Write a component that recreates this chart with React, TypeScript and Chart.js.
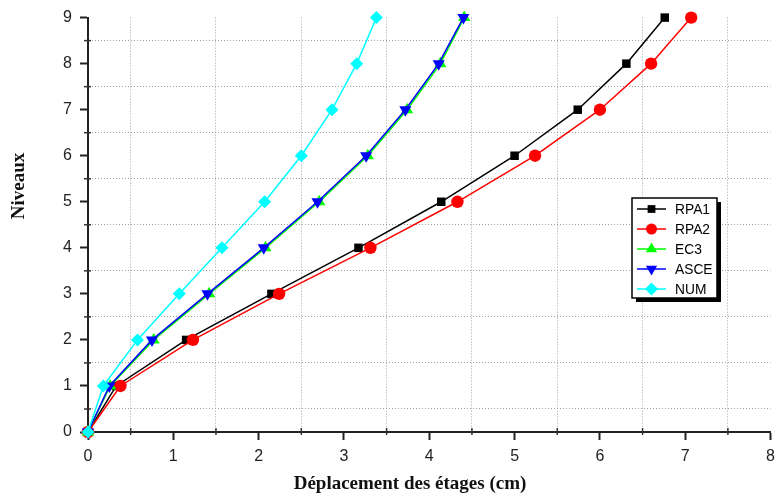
import React, { useEffect, useRef } from 'react';
import { Chart, registerables } from 'chart.js';

Chart.register(...registerables);

const levels = [0, 1, 2, 3, 4, 5, 6, 7, 8, 9];
const seriesNames = ['RPA1', 'RPA2', 'EC3', 'ASCE', 'NUM'];
const rpa1 = [0, 0.33, 1.15, 2.15, 3.17, 4.14, 5.0, 5.74, 6.31, 6.76];
const rpa2 = [0, 0.38, 1.23, 2.24, 3.31, 4.33, 5.24, 6.0, 6.6, 7.07];
const ec3 = [0, 0.26, 0.77, 1.42, 2.08, 2.71, 3.28, 3.74, 4.13, 4.41];
const asce = [0, 0.25, 0.75, 1.4, 2.06, 2.69, 3.26, 3.72, 4.11, 4.4];
const num = [0, 0.18, 0.58, 1.07, 1.57, 2.07, 2.5, 2.86, 3.15, 3.38];
const colors = ['#000000', '#ff0000', '#00ff00', '#0000ff', '#00ffff'];
const pointStyles = ['rect', 'circle', 'triangle', 'triangle', 'rectRot'];
const pointRotations = [0, 0, 0, 180, 0];
const pointRadii = [6, 6.2, 7, 7, 6.5];
const xTitle = 'Déplacement des étages (cm)';
const yTitle = 'Niveaux';
const xMin = 0, xMax = 8, yMin = 0, yMax = 9;

const allSeries = [rpa1, rpa2, ec3, asce, num];

const isInt = (v: any) => typeof v === 'number' && Math.abs(v - Math.round(v)) < 1e-9;

function drawMarker(ctx: CanvasRenderingContext2D, style: string, rot: number, x: number, y: number, r: number, color: string) {
  ctx.save();
  ctx.fillStyle = color;
  ctx.beginPath();
  if (style === 'rect') {
    const s = r * Math.SQRT1_2;
    ctx.rect(x - s, y - s, 2 * s, 2 * s);
  } else if (style === 'circle') {
    ctx.arc(x, y, r, 0, Math.PI * 2);
  } else if (style === 'triangle') {
    let a = (rot * Math.PI) / 180;
    ctx.moveTo(x + Math.sin(a) * r, y - Math.cos(a) * r);
    a += (2 * Math.PI) / 3;
    ctx.lineTo(x + Math.sin(a) * r, y - Math.cos(a) * r);
    a += (2 * Math.PI) / 3;
    ctx.lineTo(x + Math.sin(a) * r, y - Math.cos(a) * r);
    ctx.closePath();
  } else {
    ctx.moveTo(x - r, y);
    ctx.lineTo(x, y - r);
    ctx.lineTo(x + r, y);
    ctx.lineTo(x, y + r);
    ctx.closePath();
  }
  ctx.fill();
  ctx.restore();
}

const decorPlugin = {
  id: 'decor',
  beforeDatasetsDraw(chart: any) {
    const ctx = chart.ctx as CanvasRenderingContext2D;
    const xs = chart.scales.x;
    const ys = chart.scales.y;
    ctx.save();
    ctx.strokeStyle = '#333';
    ctx.lineWidth = 1.5;
    for (let v = xMin + 0.5; v < xMax; v += 1) {
      const px = xs.getPixelForValue(v);
      ctx.beginPath();
      ctx.moveTo(px, ys.bottom - 4);
      ctx.lineTo(px, ys.bottom + 3);
      ctx.stroke();
    }
    for (let v = yMin + 0.5; v < yMax; v += 1) {
      const py = ys.getPixelForValue(v);
      ctx.beginPath();
      ctx.moveTo(xs.left - 4, py);
      ctx.lineTo(xs.left + 3, py);
      ctx.stroke();
    }
    ctx.restore();
  },
  afterDraw(chart: any) {
    const ctx = chart.ctx as CanvasRenderingContext2D;
    ctx.save();
    // axis titles
    ctx.fillStyle = '#111';
    ctx.font = 'bold 19px "Liberation Serif"';
    ctx.textAlign = 'center';
    ctx.textBaseline = 'alphabetic';
    ctx.fillText(xTitle, 410, 489);
    ctx.save();
    ctx.translate(24, 186);
    ctx.rotate(-Math.PI / 2);
    ctx.fillText(yTitle, 0, 0);
    ctx.restore();

    // legend
    const bx = 632, by = 198, bw = 85, bh = 100;
    ctx.fillStyle = '#000';
    ctx.fillRect(bx + 4, by + 4, bw, bh);
    ctx.fillStyle = '#fff';
    ctx.fillRect(bx, by, bw, bh);
    ctx.strokeStyle = '#000';
    ctx.lineWidth = 1.5;
    ctx.strokeRect(bx, by, bw, bh);
    ctx.font = '15px "Liberation Sans"';
    ctx.textAlign = 'left';
    ctx.textBaseline = 'middle';
    seriesNames.forEach((name, i) => {
      const y = 209 + i * 20;
      ctx.strokeStyle = colors[i];
      ctx.lineWidth = 1.5;
      ctx.beginPath();
      ctx.moveTo(637, y);
      ctx.lineTo(666, y);
      ctx.stroke();
      const r = pointStyles[i] === 'rect' ? 5.5 : pointStyles[i] === 'circle' ? 5.5 : 6.5;
      drawMarker(ctx, pointStyles[i], pointRotations[i], 651.5, y, r, colors[i]);
      ctx.fillStyle = '#000';
      ctx.save();
      ctx.translate(675, y + 1);
      ctx.scale(0.92, 1);
      ctx.fillText(name, 0, 0);
      ctx.restore();
    });
    ctx.restore();
  },
};

export default function App() {
  const ref = useRef<HTMLCanvasElement>(null);
  useEffect(() => {
    document.body.style.margin = '0';
    if (!ref.current) return;
    const datasets = seriesNames.map((name, i) => ({
      label: name,
      data: levels.map((lv, k) => ({ x: allSeries[i][k], y: lv })),
      showLine: true,
      borderColor: colors[i],
      backgroundColor: colors[i],
      pointBackgroundColor: colors[i],
      pointBorderColor: colors[i],
      pointBorderWidth: 0,
      borderWidth: 1.5,
      pointStyle: pointStyles[i],
      rotation: pointRotations[i],
      pointRadius: pointRadii[i],
      pointHoverRadius: pointRadii[i],
      order: seriesNames.length - i,
      clip: false,
      tension: 0,
    }));
    const tickFont = { family: '"Liberation Sans"', size: 16 };
    const chart = new Chart(ref.current, {
      type: 'scatter',
      data: { datasets },
      plugins: [decorPlugin],
      options: {
        animation: false,
        responsive: false,
        devicePixelRatio: 1,
        layout: { padding: { left: 0, top: 15, right: 6, bottom: 0 } },
        plugins: { legend: { display: false }, tooltip: { enabled: false }, title: { display: false } },
        scales: {
          x: {
            type: 'linear',
            min: xMin,
            max: xMax,
            ticks: {
              stepSize: 0.5,
              autoSkip: false,
              maxRotation: 0,
              padding: 7,
              color: '#222',
              font: tickFont,
              callback: (v: any) => (isInt(v) ? String(Math.round(v)) : ''),
            },
            grid: {
              color: (c: any) => (c.tick && isInt(c.tick.value) ? 'rgba(0,0,0,0)' : '#a0a0a0'),
              lineWidth: 1,
              tickColor: (c: any) => (c.tick && isInt(c.tick.value) ? '#222' : 'rgba(0,0,0,0)'),
              tickLength: 8,
              tickWidth: 2,
            },
            border: { color: '#222', width: 2, dash: [1, 2] },
            afterFit: (s: any) => {
              s.height = 65;
            },
          },
          y: {
            type: 'linear',
            min: yMin,
            max: yMax,
            ticks: {
              stepSize: 0.5,
              autoSkip: false,
              padding: 8,
              color: '#222',
              font: tickFont,
              callback: (v: any) => (isInt(v) ? String(Math.round(v)) : ''),
            },
            grid: {
              color: (c: any) => (c.tick && isInt(c.tick.value) ? 'rgba(0,0,0,0)' : '#a0a0a0'),
              lineWidth: 1,
              tickColor: (c: any) => (c.tick && isInt(c.tick.value) ? '#222' : 'rgba(0,0,0,0)'),
              tickLength: 8,
              tickWidth: 2,
            },
            border: { color: '#222', width: 2, dash: [1, 2] },
            afterFit: (s: any) => {
              s.width = 88;
            },
          },
        },
      } as any,
    });
    return () => chart.destroy();
  }, []);
  return (
    <div style={{ position: 'absolute', left: 0, top: 0, width: 782, height: 497, background: '#fff' }}>
      <canvas ref={ref} width={782} height={497} style={{ display: 'block' }} />
    </div>
  );
}
